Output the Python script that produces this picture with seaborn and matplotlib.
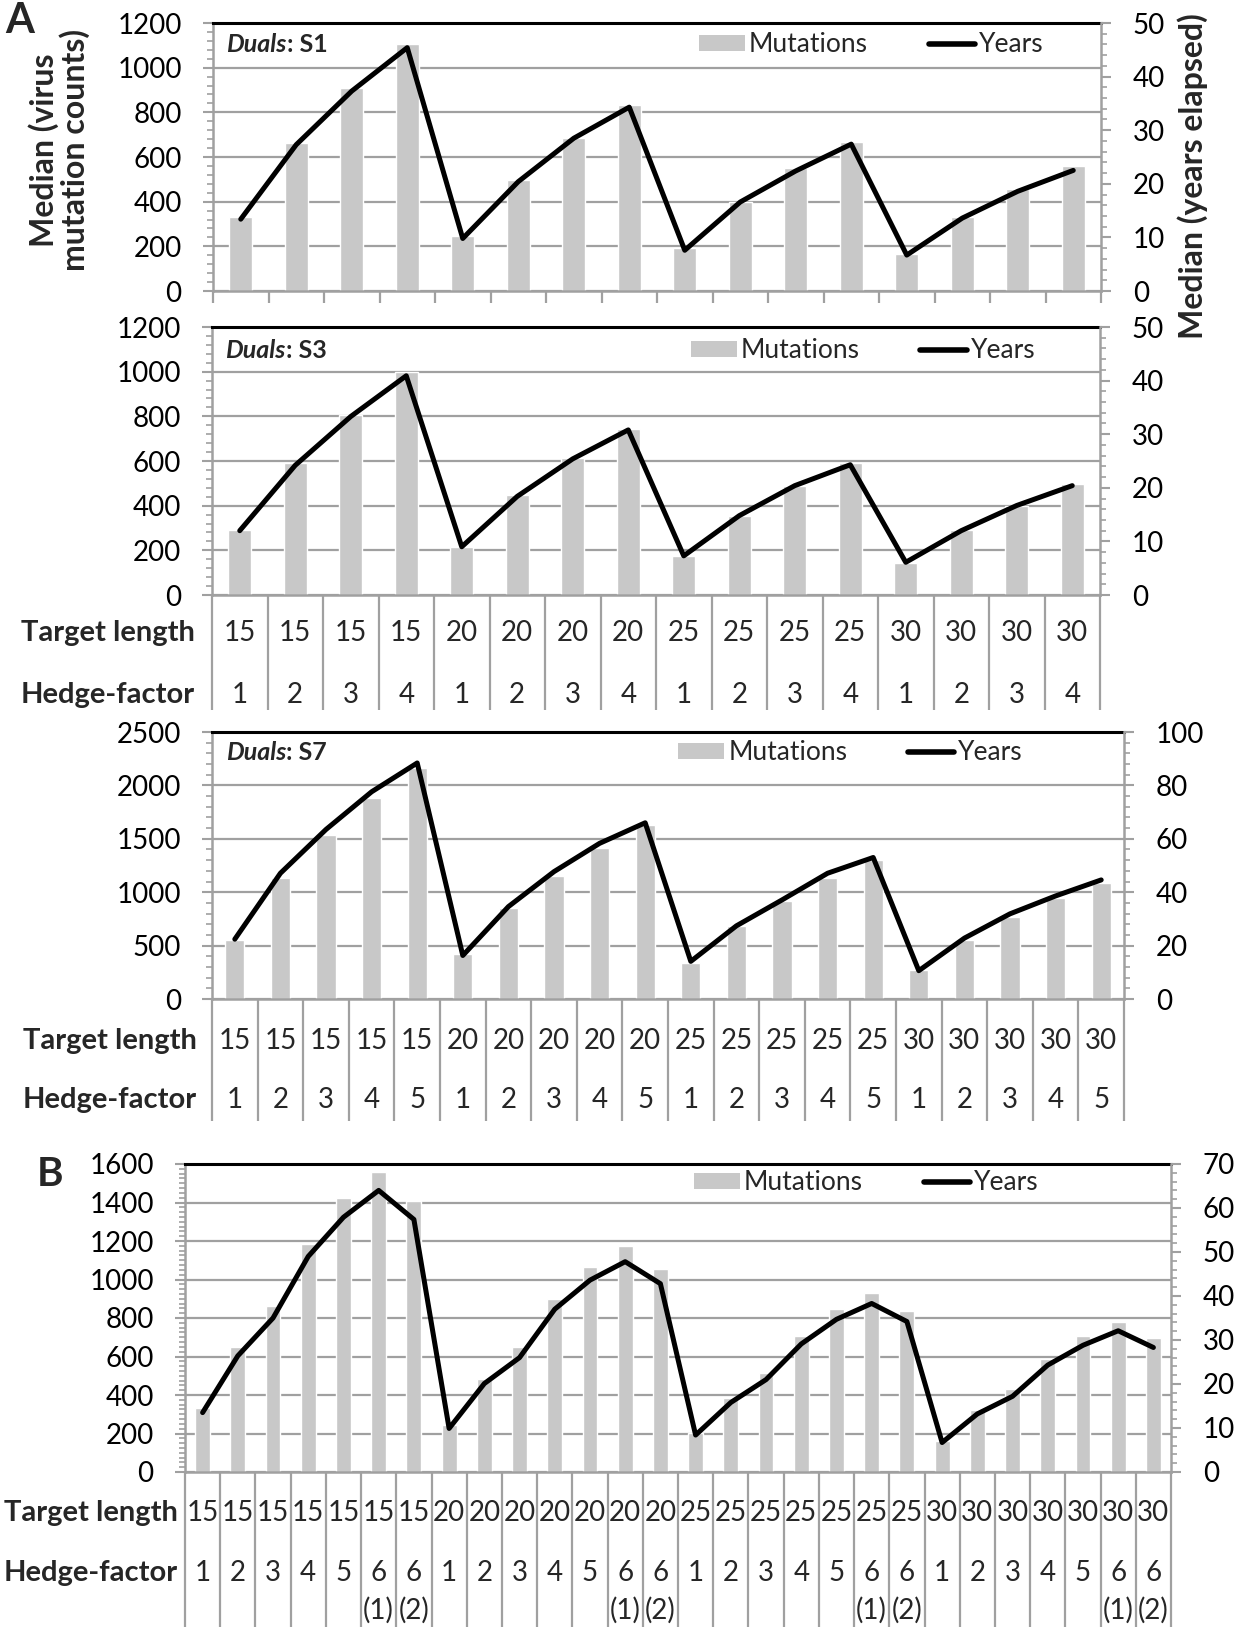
import numpy as np
import pandas as pd
import matplotlib
matplotlib.use("Agg")
import matplotlib.pyplot as plt
import matplotlib.transforms as mtrans
from matplotlib.patches import Patch
from matplotlib.lines import Line2D
from matplotlib.ticker import MultipleLocator
import seaborn as sns

sns.set_theme(style="white")
plt.rcParams['font.family'] = ['Lato', 'DejaVu Sans']

# ---------------- data ----------------
s1_target = [15, 15, 15, 15, 20, 20, 20, 20, 25, 25, 25, 25, 30, 30, 30, 30]
s1_hedge = ['1', '2', '3', '4', '1', '2', '3', '4', '1', '2', '3', '4', '1', '2', '3', '4']
s1_mut = [330, 663, 910, 1108, 247, 498, 685, 831, 191, 397, 550, 665, 166, 331, 455, 560]
s1_years = [13.4, 27.3, 37.3, 45.4, 9.8, 20.4, 28.5, 34.3, 7.6, 16.6, 22.4, 27.4, 6.7, 13.6, 18.6, 22.5]

s3_target = [15, 15, 15, 15, 20, 20, 20, 20, 25, 25, 25, 25, 30, 30, 30, 30]
s3_hedge = ['1', '2', '3', '4', '1', '2', '3', '4', '1', '2', '3', '4', '1', '2', '3', '4']
s3_mut = [291, 591, 805, 1000, 217, 448, 613, 745, 175, 355, 490, 591, 145, 291, 400, 498]
s3_years = [12.0, 24.2, 33.3, 40.9, 9.0, 18.4, 25.4, 30.8, 7.3, 14.8, 20.4, 24.3, 6.1, 12.0, 16.7, 20.4]

s7_target = [15, 15, 15, 15, 15, 20, 20, 20, 20, 20, 25, 25, 25, 25, 25, 30, 30, 30, 30, 30]
s7_hedge = ['1', '2', '3', '4', '5', '1', '2', '3', '4', '5', '1', '2', '3', '4', '5', '1', '2', '3', '4', '5']
s7_mut = [548, 1130, 1535, 1884, 2164, 423, 850, 1152, 1410, 1625, 336, 685, 918, 1133, 1301, 274, 554, 766, 943, 1083]
s7_years = [22.4, 47.1, 63.5, 77.6, 88.4, 16.3, 34.6, 47.7, 58.3, 66.0, 14.1, 27.4, 37.1, 47.1, 53.0, 10.6, 22.8, 31.9, 38.6, 44.6]

b_target = [15, 15, 15, 15, 15, 15, 15, 20, 20, 20, 20, 20, 20, 20,
            25, 25, 25, 25, 25, 25, 25, 30, 30, 30, 30, 30, 30, 30]
b_hedge = ['1', '2', '3', '4', '5', '6', '6', '1', '2', '3', '4', '5', '6', '6',
           '1', '2', '3', '4', '5', '6', '6', '1', '2', '3', '4', '5', '6', '6']
b_sub = ['', '', '', '', '', '(1)', '(2)', '', '', '', '', '', '(1)', '(2)',
         '', '', '', '', '', '(1)', '(2)', '', '', '', '', '', '(1)', '(2)']
b_mut = [332, 647, 862, 1184, 1425, 1556, 1408, 245, 481, 647, 897, 1067, 1172, 1053,
         201, 385, 516, 705, 848, 932, 836, 160, 323, 432, 586, 705, 778, 694]
b_years = [13.5, 26.4, 35.0, 49.0, 57.9, 64.0, 57.4, 9.9, 20.1, 26.0, 37.0, 43.6, 47.8, 42.8,
           8.4, 15.8, 21.0, 29.1, 34.7, 38.3, 34.2, 6.7, 13.2, 17.2, 24.3, 28.8, 32.1, 28.3]

# ---------------- style ----------------
W, H = 1240, 1627
BAR = '#c8c8c8'
GRID = '#a0a0a0'
TICK_FS = 20
TABLE_FS = 20
LEG_FS = 19
ROWLAB_FS = 21
TITLE_FS = 18

fig = plt.figure(figsize=(W / 100, H / 100), dpi=100)
fig.patch.set_facecolor('white')


def panel(rect, target, hedge, sub, mut, years, lmax, lmaj, lmin, rmax, rmaj, rmin,
          title, leg_xy, rows_px, bottom_px, rowlabel_x):
    x0, x1, ytop, yzero = rect
    ax = fig.add_axes([x0 / W, 1 - yzero / H, (x1 - x0) / W, (yzero - ytop) / H])
    n = len(mut)
    df = pd.DataFrame({'pos': np.arange(n), 'mut': mut, 'years': years})
    sns.barplot(data=df, x='pos', y='mut', color=BAR, saturation=1, width=0.42, ax=ax, zorder=2)
    ax.set_axisbelow(True)
    ax.set_ylim(0, lmax)
    ax.set_xlim(-0.5, n - 0.5)
    ax.yaxis.set_major_locator(MultipleLocator(lmaj))
    ax.yaxis.set_minor_locator(MultipleLocator(lmin))
    ax.yaxis.grid(True, which='major', color=GRID, lw=1.6)
    ax.xaxis.grid(False)
    ax.set_xticks([])
    ax.set_xlabel('')
    ax.set_ylabel('')
    ax.tick_params(axis='y', which='major', left=True, length=7, width=1.5, color=GRID,
                   labelsize=TICK_FS, pad=15.5, labelcolor='black')
    ax.tick_params(axis='y', which='minor', left=True, length=4.5, width=1.2, color=GRID)
    for s in ['left', 'bottom']:
        ax.spines[s].set_color(GRID)
        ax.spines[s].set_linewidth(1.8)
    ax.spines['top'].set_color('black')
    ax.spines['top'].set_linewidth(2.2)
    ax.spines['right'].set_visible(False)

    ax2 = ax.twinx()
    sns.lineplot(data=df, x='pos', y='years', color='black', lw=3.6, ax=ax2, zorder=5)
    ax2.set_ylim(0, rmax)
    ax2.set_xlim(-0.5, n - 0.5)
    ax2.set_ylabel('')
    ax2.set_xlabel('')
    ax2.yaxis.set_major_locator(MultipleLocator(rmaj))
    ax2.yaxis.set_minor_locator(MultipleLocator(rmin))
    ax2.tick_params(axis='y', which='major', right=True, length=7, width=1.5, color=GRID,
                    labelsize=TICK_FS, pad=16, labelcolor='black')
    ax2.tick_params(axis='y', which='minor', right=True, length=4.5, width=1.2, color=GRID)
    for s in ['top', 'left', 'bottom']:
        ax2.spines[s].set_visible(False)
    ax2.spines['right'].set_color(GRID)
    ax2.spines['right'].set_linewidth(1.8)

    # title
    if title is not None:
        t1 = ax.text(0.015, leg_xy[1], 'Duals', style='italic', weight='bold', fontsize=TITLE_FS,
                     transform=ax.transAxes, va='center', ha='left')
        ax.annotate(title, xy=(1, 0), xycoords=t1, va='bottom', ha='left', weight='bold',
                    fontsize=TITLE_FS)

    # legend
    handles = [Patch(facecolor=BAR, edgecolor='none'), Line2D([], [], color='black', lw=4)]
    ax2.legend(handles, ['Mutations', 'Years'], loc='center left', bbox_to_anchor=leg_xy,
               ncol=2, frameon=False, fontsize=LEG_FS, handlelength=1.75, handleheight=0.55,
               handletextpad=0.15, columnspacing=2.3, borderpad=0, borderaxespad=0)

    frac = lambda ypx: (yzero - ypx) / (yzero - ytop)
    trans = mtrans.blended_transform_factory(ax.transData, ax.transAxes)
    bounds = np.arange(n + 1) - 0.5
    if rows_px is None:
        ax.vlines(bounds, 0, frac(yzero + 12), transform=trans, colors=GRID, lw=1.6, clip_on=False)
    else:
        ax.vlines(bounds, 0, frac(bottom_px), transform=trans, colors=GRID, lw=1.6, clip_on=False)
        rows = [target, hedge] + ([sub] if sub is not None else [])
        for vals, ypx in zip(rows, rows_px):
            for i, v in enumerate(vals):
                ax.text(i, frac(ypx), str(v), ha='center', va='center', transform=trans,
                        fontsize=TABLE_FS, clip_on=False)
        for lab, ypx in zip(['Target length', 'Hedge-factor'], rows_px[:2]):
            fig.text(rowlabel_x / W, 1 - ypx / H, lab, ha='right', va='center',
                     weight='bold', fontsize=ROWLAB_FS)
    return ax, ax2


# A: S1
panel((213, 1101, 23, 291), s1_target, s1_hedge, None, s1_mut, s1_years,
      1200, 200, 40, 50, 10, 2, ': S1', (0.547, 0.919), None, None, None)
# A: S3
panel((212, 1100, 327, 595), s3_target, s3_hedge, None, s3_mut, s3_years,
      1200, 200, 40, 50, 10, 2, ': S3', (0.539, 0.911), [633, 695], 710, 195)
# A: S7
panel((212, 1124, 732, 999), s7_target, s7_hedge, None, s7_mut, s7_years,
      2500, 500, 100, 100, 20, 4, ': S7', (0.511, 0.922), [1041, 1100], 1121, 197)
# B
panel((185, 1171, 1164, 1472), b_target, b_hedge, b_sub, b_mut, b_years,
      1600, 200, 25, 70, 10, 2, None, (0.516, 0.939), [1513, 1573, 1610], 1627, 178)

# axis labels and panel letters
fig.text(59 / W, 1 - 150 / H, 'Median (virus\nmutation counts)', rotation=90, ha='center',
         va='center', weight='bold', fontsize=23, linespacing=0.98)
fig.text(1193 / W, 1 - 176 / H, 'Median (years elapsed)', rotation=90, ha='center',
         va='center', weight='bold', fontsize=23)
fig.text(20 / W, 1 - 21 / H, 'A', ha='center', va='center', weight='bold', fontsize=30)
fig.text(50 / W, 1 - 1174 / H, 'B', ha='center', va='center', weight='bold', fontsize=29)

fig.savefig('out.png', dpi=100, facecolor='white')
